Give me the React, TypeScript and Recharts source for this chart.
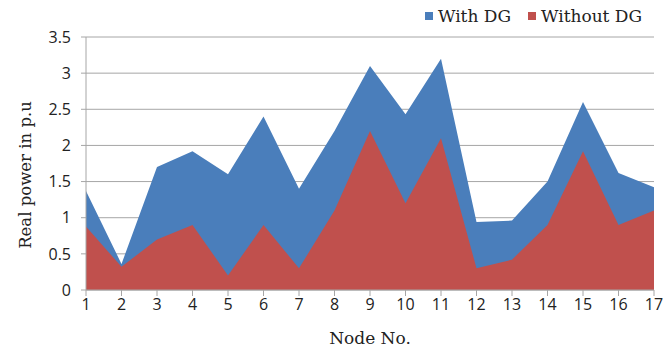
import React from 'react';
import { AreaChart, Area, XAxis, YAxis, CartesianGrid } from 'recharts';

const nodes = ['1', '2', '3', '4', '5', '6', '7', '8', '9', '10', '11', '12', '13', '14', '15', '16', '17'];
const withDG = [1.37, 0.36, 1.7, 1.92, 1.6, 2.4, 1.4, 2.2, 3.1, 2.43, 3.2, 0.94, 0.96, 1.5, 2.6, 1.62, 1.42];
const withoutDG = [0.88, 0.32, 0.7, 0.9, 0.2, 0.9, 0.3, 1.1, 2.2, 1.2, 2.1, 0.3, 0.42, 0.9, 1.92, 0.9, 1.1];
const yTicks = [0, 0.5, 1, 1.5, 2, 2.5, 3, 3.5];

const BLUE = '#4a7ebb';
const RED = '#c0504d';

const data = nodes.map((n, i) => ({ node: n, withDG: withDG[i], withoutDG: withoutDG[i] }));

// Liberation Serif doesn't resolve in the sandbox, DejaVu Serif does
const serif = "'DejaVu Serif', serif";
const sans = "'Open Sans', sans-serif";

const YLabel = () => (
    <text x={25} y={175} transform="rotate(-90 25 175)" textAnchor="middle" dominantBaseline="central"
        fill="#222" fontSize={16.5} fontFamily={serif}>
        Real power in p.u
    </text>
);

const App: React.FC = () => {
    return (
        <div style={{ position: 'absolute', left: 0, top: 0, width: 668, height: 348, background: '#fff' }}>
            {/* legend drawn by hand so it doesn't eat plot height */}
            <div style={{ position: 'absolute', top: 5, left: 425, display: 'flex', alignItems: 'center', fontSize: 17, lineHeight: '22px', color: '#222', fontFamily: serif }}>
                <span style={{ width: 8, height: 8, background: BLUE, marginRight: 5 }} />
                <span style={{ marginRight: 17 }}>With DG</span>
                <span style={{ width: 8, height: 8, background: RED, marginRight: 5 }} />
                <span>Without DG</span>
            </div>
            <AreaChart width={668} height={348} data={data} margin={{ top: 37, right: 14, left: 0, bottom: 28 }}>
                <CartesianGrid vertical={false} stroke="#a6a6a6" />
                <XAxis
                    dataKey="node"
                    padding={{ left: 0, right: 0 }}
                    stroke="#a6a6a6"
                    tickSize={6}
                    tick={{ fill: '#222', fontSize: 16, fontFamily: sans }}
                    tickMargin={3}
                    label={{ value: 'Node No.', position: 'insideBottom', offset: -24, fill: '#222', fontSize: 17, fontFamily: serif }}
                />
                <YAxis
                    width={86}
                    domain={[0, 3.5]}
                    ticks={yTicks}
                    stroke="#a6a6a6"
                    tickSize={5}
                    tick={{ fill: '#222', fontSize: 16, fontFamily: sans }}
                    tickMargin={10}
                    label={{ content: <YLabel /> }}
                />
                <Area type="linear" dataKey="withDG" name="With DG" fill={BLUE} stroke="none" fillOpacity={1} isAnimationActive={false} />
                <Area type="linear" dataKey="withoutDG" name="Without DG" fill={RED} stroke="none" fillOpacity={1} isAnimationActive={false} />
            </AreaChart>
        </div>
    );
};

export default App;
